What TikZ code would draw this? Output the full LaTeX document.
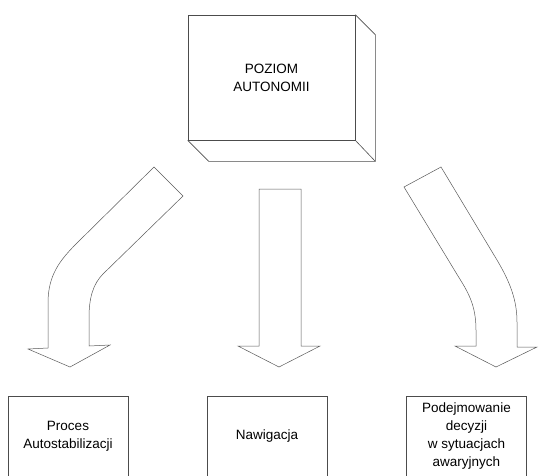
\documentclass[tikz,border=0pt]{standalone}
\usepackage{fontspec}
\setmainfont{Liberation Sans}
\usetikzlibrary{calc}

\begin{document}
\begin{tikzpicture}
      [   x=1pt,y=-1pt,
          box/.style={draw=black!70,line width=0.6pt,minimum width=#1,inner sep=0pt,
                      align=center,font=\fontsize{13.5}{18}\selectfont},
          bigarrow/.style={draw=black!65,line width=0.5pt,line join=miter},
      ]
          \clip (0,0) rectangle (547,475);
          \node[box=167pt,minimum height=125pt] (poziom) at (271.5,77.5) {POZIOM\\AUTONOMII};
          \draw[draw=black!70,line width=0.6pt] (poziom.south west) -- ++(21,21) -| ($(poziom.north east)+(20,20)$) -- (poziom.north east);
          \draw[draw=black!70,line width=0.6pt] (poziom.south east) -- ++(20,21);
          \node[box=120pt,minimum height=80pt,anchor=north] (proces) at (68,396) {Proces\\Autostabilizacji};
          \node[box=120pt,minimum height=80pt,anchor=north] (nawigacja) at (267,396) {Nawigacja};
          \node[box=120pt,minimum height=80pt,anchor=north] (decyzje) at (466.5,396) {Podejmowanie\\decyzji\\w sytuacjach\\awaryjnych};
          \draw[bigarrow] (154,167) -- (183,196) -- (103,274) .. controls (93,284) and (89,298) .. (89,318) -- (89,346)
              -- (110,345) -- (70,367) -- (28,349) -- (48,348) -- (48,303) .. controls (48,275) and (60,260) .. (77,243) -- cycle;
          \draw[bigarrow] (259,189) -- (301,189) -- (301,346) -- (320,346) -- (279,367) -- (238,346) -- (259,346) -- cycle;
          \draw[bigarrow] (404,187) -- (441,167) -- (497,260) .. controls (510,282) and (517,300) .. (517,322) -- (517,347)
              -- (537,347) -- (496,367) -- (455,346) -- (476,346) -- (476,330) .. controls (476,305) and (468,292) .. (458,276) -- cycle;
    \end{tikzpicture}
\end{document}
